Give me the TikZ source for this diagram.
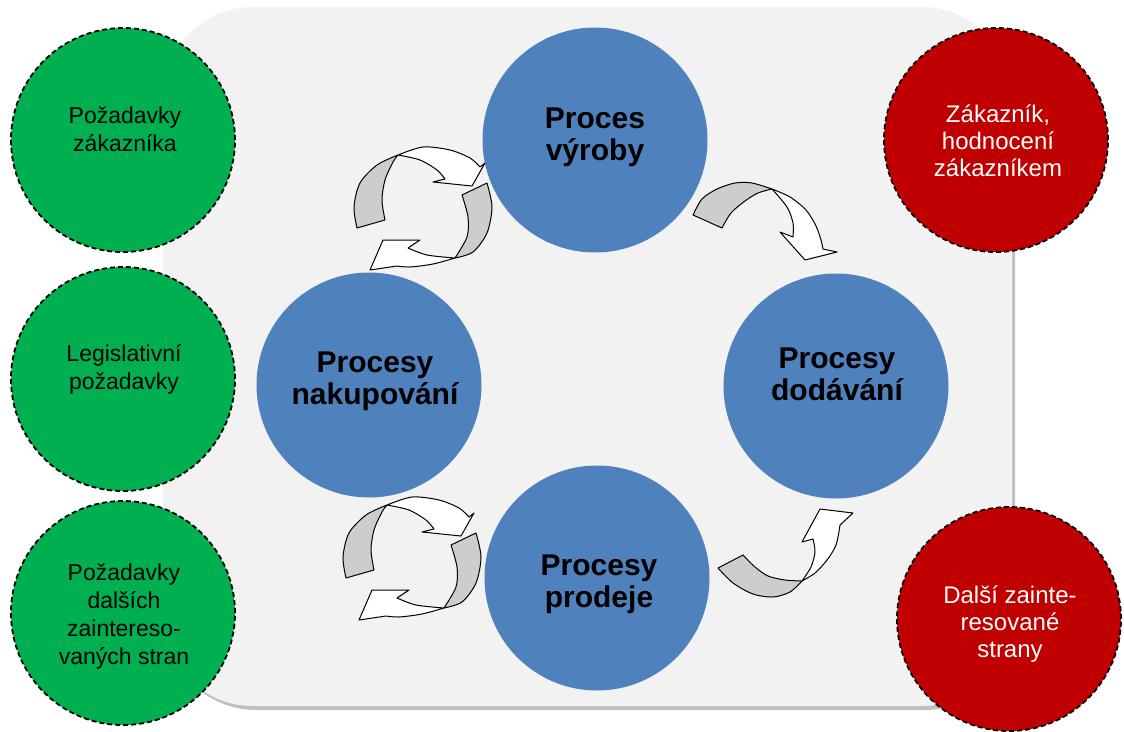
\documentclass[tikz,border=0pt]{standalone}
\usepackage{fontspec}
\setmainfont{Liberation Sans}
\definecolor{panelgray}{HTML}{F2F2F2}
\definecolor{panelshadow}{HTML}{BFBFBF}
\definecolor{procblue}{HTML}{4F81BD}
\definecolor{reqgreen}{HTML}{00B050}
\definecolor{custred}{HTML}{C00000}
\definecolor{backgray}{HTML}{CDCDCD}
\begin{document}
\begin{tikzpicture}[x=1pt,y=-1pt,
  procnode/.style={circle, fill=procblue, minimum size=225pt, inner sep=0pt},
  reqnode/.style={circle, fill=reqgreen, draw=black, line width=1.8pt, dash pattern=on 5pt off 3pt, minimum size=224pt, inner sep=0pt},
  custnode/.style={circle, fill=custred, draw=black, line width=1.8pt, dash pattern=on 5pt off 3pt, minimum size=224pt, inner sep=0pt},
  proctext/.style={font=\fontsize{30}{32}\selectfont\bfseries, align=center, text=black},
  reqtext/.style={font=\fontsize{23}{28}\selectfont, align=center, text=black},
  custtext/.style={font=\fontsize{24}{27}\selectfont, align=center, text=white},
  ribbonback/.style={fill=backgray, draw=black, line width=1pt, line join=round},
  ribbonfront/.style={fill=white, draw=black, line width=1pt, line join=round}]
\useasboundingbox (0,0) rectangle (1124,731);

% panel with its shadow
\fill[panelshadow, rounded corners=90pt] (166,11) rectangle (1015,710);
\fill[panelgray, rounded corners=90pt] (163,7) rectangle (1012,706);

% requirement circles (left)
\node[reqnode] (req1) at (123,140) {};
\node[reqnode] (req2) at (123,379) {};
\node[reqnode] (req3) at (123,613) {};
\node[reqtext] (req1t) at (125,129) {Požadavky\\zákazníka};
\node[reqtext] (req2t) at (124,369) {Legislativní\\požadavky};
\node[reqtext] (req3t) at (124,617) {Požadavky\\dalších\\zaintereso-\\vaných stran};

% customer circles (right)
\node[custnode] (cust1) at (996,140) {};
\node[custnode] (cust2) at (1009,619) {};
\node[custtext] (cust1t) at (998,141) {Zákazník,\\hodnocení\\zákazníkem};
\node[custtext] (cust2t) at (1010,624) {Další zainte-\\resované\\strany};

% process circles
\node[procnode] (vyroba) at (595,140) {};
\node[procnode] (nakup) at (369,385) {};
\node[procnode] (dodani) at (836,386) {};
\node[procnode] (prodej) at (597,578) {};
\node[proctext] (vyrobat) at (595,137) {Proces\\výroby};
\node[proctext] (nakupt) at (375,381) {Procesy\\nakupování};
\node[proctext] (dodanit) at (837,374) {Procesy\\dodávání};
\node[proctext] (prodejt) at (599,584) {Procesy\\prodeje};

% curved arrow: výroba -> dodávání
\filldraw[ribbonback] plot[smooth] coordinates {(693,215) (702,199) (717,189) (735,183) (752,183) (772,189)}
  -- plot[smooth] coordinates {(772,189) (758,193) (745,201) (731,213) (722,228)} -- cycle;
\filldraw[ribbonfront] plot[smooth] coordinates {(772,189) (790,197) (806,210) (816,226) (821,240) (823,249)}
  -- (837,252) -- (805,260) -- (780,232) -- (793,237)
  -- plot[smooth] coordinates {(793,237) (793,223) (787,207) (772,189)} -- cycle;

% curved arrow: prodej -> dodávání
\filldraw[ribbonback] plot[smooth] coordinates {(718,568) (733,583) (753,594) (773,597) (790,592) (802,581)}
  -- plot[smooth] coordinates {(802,581) (785,580) (768,576) (755,567) (743,555)} -- cycle;
\filldraw[ribbonfront] plot[smooth] coordinates {(802,581) (815,573) (827,560) (836,545) (840,525)}
  -- (853,513) -- (820,509) -- (802,542) -- (813,539)
  -- plot[smooth] coordinates {(813,539) (815,552) (811,567) (802,581)} -- cycle;

% two-arrow cycles between the purchasing circle and its neighbours
\foreach \dx/\dy in {0/0, -11/350} {
\begin{scope}[shift={(\dx,\dy)}]
  % arrow running down the right and along the bottom
  \filldraw[ribbonback] plot[smooth] coordinates {(487,183) (492,207) (487,233) (473,252) (455,258)}
    -- plot[smooth] coordinates {(455,258) (467,237) (468,217) (462,195)} -- cycle;
  \filldraw[ribbonfront] plot[smooth] coordinates {(455,258) (433,264) (410,267) (397,266)}
    -- (370,270) -- (383,240) -- (420,240) -- (408,248)
    -- plot[smooth] coordinates {(408,248) (427,255) (455,258)} -- cycle;
  % arrow running up the left and over the top
  \filldraw[ribbonback] plot[smooth] coordinates {(357,228) (354,207) (360,183) (377,165) (398,155)}
    -- plot[smooth] coordinates {(398,155) (393,162) (385,180) (382,200) (385,220)} -- cycle;
  \filldraw[ribbonfront] plot[smooth] coordinates {(398,155) (423,147) (450,150) (470,158) (480,167)}
    -- (485,163) -- (472,186) -- (433,182) -- (445,179)
    -- plot[smooth] coordinates {(445,179) (437,170) (420,160) (398,155)} -- cycle;
\end{scope}
}
\end{tikzpicture}
\end{document}
